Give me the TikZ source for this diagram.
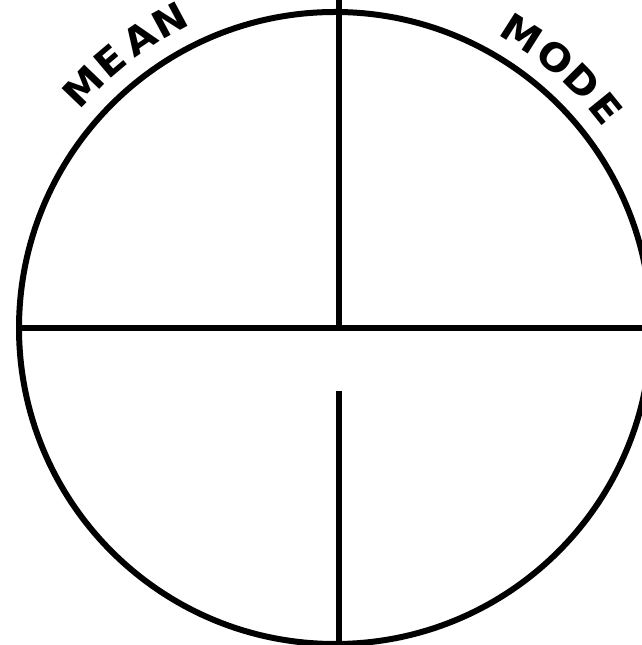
\documentclass[tikz,border=0pt]{standalone}
\usepackage{fontspec}
\setmainfont{DejaVu Sans}
\newfontfamily\arclabelfam{DejaVu Sans Bold}[FakeStretch=1.06]
\usetikzlibrary{calc}
\newcommand\arclabelfont{\arclabelfam\fontsize{38}{38}\selectfont}
\tikzset{
  ringline/.style={line width=6pt, draw=black},
  arcletter/.style={font=\arclabelfont, inner sep=0pt, outer sep=0pt, anchor=center, rotate=#1-90}
}
\begin{document}
\begin{tikzpicture}[x=1pt, y=1pt]
\useasboundingbox (0,0) rectangle (642,645);
\clip (0,0) rectangle (642,645);
\coordinate (c) at (335,317);
\node[circle, ringline, minimum size=632pt, inner sep=0pt, outer sep=0pt] (ring) at (c) {};
\coordinate (vtop) at (339,650);
\coordinate (mid) at (339,317);
\coordinate (vlow) at (339,254);
\coordinate (vbot) at (339,-5);
\coordinate (hright) at (660,317);
\draw[ringline] (vtop) -- (mid);
\draw[ringline] (ring.west) -- (hright);
\draw[ringline] (vlow) -- (vbot);
\foreach \ch/\ang/\nm in {M/136.2/mean1, E/130.2/mean2, A/124.0/mean3, N/118.2/mean4,
                          M/57.6/mode1, O/50.9/mode2, D/44.9/mode3, E/39.0/mode4}
  \node[arcletter=\ang] (\nm) at ($(c)+(\ang:349pt)$) {\ch};
\end{tikzpicture}
\end{document}
